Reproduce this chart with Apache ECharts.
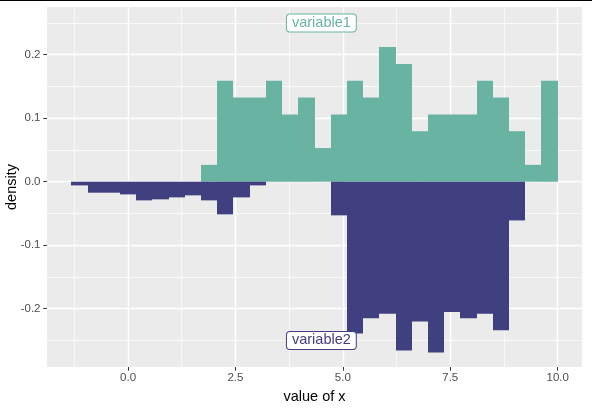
<!DOCTYPE html>
<html>
<head>
<meta charset="utf-8">
<title>mirror histogram</title>
<script src="https://cdn.jsdelivr.net/npm/echarts@6/dist/echarts.min.js"></script>
<style>
  html, body { margin: 0; padding: 0; background: #fff; }
  #main { width: 592px; height: 409px; }
</style>
</head>
<body>
<div id="main"></div>
<script>
// bin edges shared by both histograms (30 bins)
var binEdges = [-1.32, -0.943, -0.565, -0.188, 0.189, 0.567, 0.944, 1.321, 1.698, 2.076,
                2.453, 2.830, 3.208, 3.585, 3.962, 4.340, 4.717, 5.094, 5.471, 5.849,
                6.226, 6.603, 6.981, 7.358, 7.735, 8.113, 8.490, 8.867, 9.245, 9.622, 10.0];
// variable1 density per bin (drawn upward)
var density1 = [0, 0, 0, 0, 0, 0, 0, 0, 0.0265, 0.159,
                0.1325, 0.1325, 0.159, 0.106, 0.1325, 0.053, 0.106, 0.159, 0.1325, 0.212,
                0.1855, 0.0795, 0.106, 0.106, 0.106, 0.159, 0.1325, 0.0795, 0.0265, 0.159];
// variable2 density per bin (drawn downward)
var density2 = [0.0058, 0.0173, 0.0173, 0.020, 0.0294, 0.0278, 0.0247, 0.0215, 0.0294, 0.0514,
                0.0247, 0.0058, 0, 0, 0, 0, 0.053, 0.239, 0.215, 0.208,
                0.266, 0.220, 0.269, 0.205, 0.215, 0.208, 0.234, 0.061, 0, 0];

var xTicks = [0, 2.5, 5, 7.5, 10];
var xMinor = [-1.25, 1.25, 3.75, 6.25, 8.75];
var yTicks = [-0.2, -0.1, 0, 0.1, 0.2];
var yMinor = [-0.25, -0.15, -0.05, 0.05, 0.15, 0.25];

var labelNames = ['variable1', 'variable2'];
var labelX = [4.5, 4.5];
var labelY = [0.25, -0.25];
var colors = ['#69b3a2', '#404080'];

var xMin = -1.886, xMax = 10.566;
var yMin = -0.2918, yMax = 0.2751;

function bins(dens, sign) {
    var rows = [];
    for (var i = 0; i < dens.length; i++) {
        if (dens[i] === 0) continue;
        rows.push([binEdges[i], binEdges[i + 1], sign * dens[i]]);
    }
    return rows;
}

function renderBar(params, api) {
    var a = api.coord([api.value(0), api.value(2)]);
    var b = api.coord([api.value(1), 0]);
    var x0 = Math.round(a[0]), x1 = Math.round(b[0]);
    var y0 = Math.min(a[1], b[1]), y1 = Math.max(a[1], b[1]);
    return {
        type: 'rect',
        shape: { x: x0, y: y0, width: x1 - x0, height: y1 - y0 },
        style: { fill: api.visual('color') }
    };
}

var font = 'Liberation Sans, Arial, sans-serif';

function fmt(v) { return v.toFixed(1); }

var myChart = echarts.init(document.getElementById('main'));
var option = {
    backgroundColor: '#ffffff',
    animation: false,
    grid: { left: 47, right: 10, top: 7, bottom: 42, show: true, backgroundColor: '#EBEBEB', borderWidth: 0,
            containLabel: false, outerBoundsMode: 'none' },
    graphic: [{ type: 'rect', left: 0, top: 0, shape: { width: 592, height: 1 }, style: { fill: '#000' }, z: 100 }],
    xAxis: [{
        type: 'value', min: xMin, max: xMax,
        name: 'value of x', nameLocation: 'middle', nameGap: 22, nameMoveOverlap: false,
        nameTextStyle: { color: '#000', fontSize: 14.5, fontFamily: font },
        axisLine: { show: false, onZero: false },
        axisTick: { show: true, length: 3.7, customValues: xTicks, lineStyle: { color: '#333333', width: 1 } },
        axisLabel: { customValues: xTicks, formatter: fmt, color: '#4D4D4D', fontSize: 11.5, fontFamily: font, margin: 5 },
        splitLine: { show: true, lineStyle: { color: '#FFFFFF', width: 1.4 } }
    }, {
        type: 'value', min: xMin, max: xMax, position: 'bottom',
        axisLine: { show: false, onZero: false }, axisLabel: { show: false },
        axisTick: { show: false, customValues: xMinor },
        splitLine: { show: true, lineStyle: { color: '#FFFFFF', width: 0.7 } }
    }],
    yAxis: [{
        type: 'value', min: yMin, max: yMax,
        name: 'density', nameLocation: 'middle', nameGap: 28, nameRotate: 90, nameMoveOverlap: false,
        nameTextStyle: { color: '#000', fontSize: 14.5, fontFamily: font },
        axisLine: { show: false, onZero: false },
        axisTick: { show: true, length: 3.7, customValues: yTicks, lineStyle: { color: '#333333', width: 1 } },
        axisLabel: { customValues: yTicks, formatter: fmt, color: '#4D4D4D', fontSize: 11.5, fontFamily: font, margin: 6.5 },
        splitLine: { show: true, lineStyle: { color: '#FFFFFF', width: 1.4 } }
    }, {
        type: 'value', min: yMin, max: yMax, position: 'left',
        axisLine: { show: false, onZero: false }, axisLabel: { show: false },
        axisTick: { show: false, customValues: yMinor },
        splitLine: { show: true, lineStyle: { color: '#FFFFFF', width: 0.7 } }
    }],
    series: [{
        type: 'custom', name: 'variable1', renderItem: renderBar,
        encode: { x: [0, 1], y: 2 }, itemStyle: { color: colors[0] },
        data: bins(density1, 1), z: 2
    }, {
        type: 'custom', name: 'variable2', renderItem: renderBar,
        encode: { x: [0, 1], y: 2 }, itemStyle: { color: colors[1] },
        data: bins(density2, -1), z: 2
    }].concat(labelNames.map(function (n, i) {
        return {
            type: 'scatter', symbolSize: 0, silent: true, z: 5,
            data: [{ name: n, value: [labelX[i], labelY[i]] }],
            label: {
                show: true, position: 'inside', formatter: '{b}',
                color: colors[i], fontSize: 14.5, fontFamily: font,
                textBorderWidth: 0, opacity: 1,
                backgroundColor: '#ffffff', borderColor: colors[i], borderWidth: 1,
                borderRadius: 3, padding: [1, 5, 1, 5]
            }
        };
    }))
};
myChart.setOption(option);
</script>
</body>
</html>
